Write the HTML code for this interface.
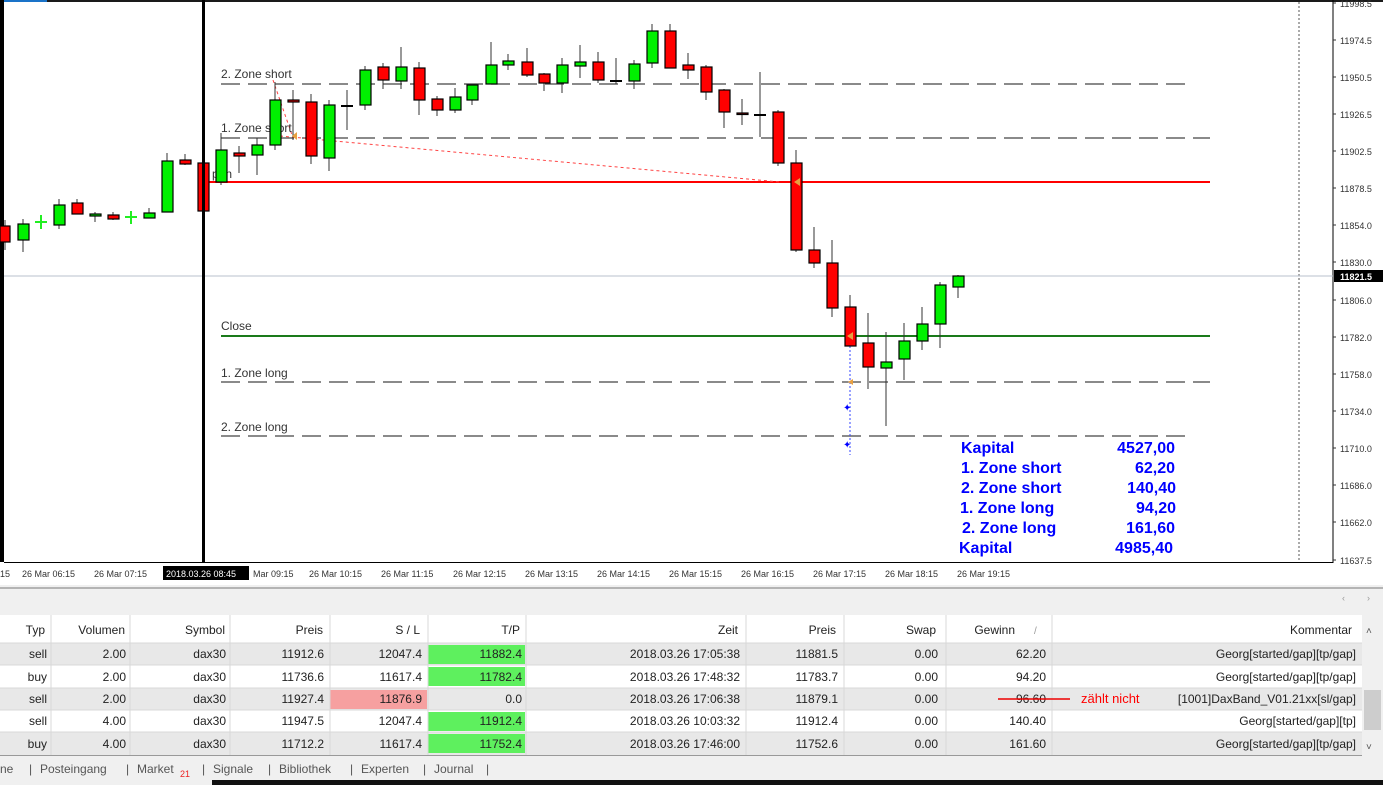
<!DOCTYPE html>
<html><head><meta charset="utf-8">
<style>
html,body{margin:0;padding:0;width:1383px;height:785px;overflow:hidden;background:#fff;font-family:"Liberation Sans",sans-serif;}
svg{display:block;position:absolute;left:0;top:0}
</style></head><body>
<svg width="1383" height="785" viewBox="0 0 1383 785" xmlns="http://www.w3.org/2000/svg" font-family="Liberation Sans, sans-serif">
<rect x="0" y="0" width="1383" height="785" fill="#fff"/>
<!-- top border -->
<rect x="0" y="0" width="1383" height="2" fill="#1a1a1a"/>
<rect x="0" y="0" width="47" height="2" fill="#1a73c8"/>
<!-- left border -->
<rect x="0" y="0" width="4" height="562" fill="#000"/>
<!-- chart frame -->
<line x1="1333" y1="0" x2="1333" y2="563" stroke="#000" stroke-width="1"/>
<line x1="4" y1="562.5" x2="1333" y2="562.5" stroke="#000" stroke-width="1"/>
<!-- dotted vertical -->
<line x1="1299" y1="2" x2="1299" y2="562" stroke="#555" stroke-width="1" stroke-dasharray="2 2"/>
<!-- bid line -->
<line x1="4" y1="276" x2="1333" y2="276" stroke="#b8c0cc" stroke-width="1"/>
<!-- zone lines -->
<g stroke="#444" stroke-width="1.3" stroke-dasharray="19 8">
<line x1="221" y1="84" x2="1185" y2="84"/>
<line x1="221" y1="138" x2="1210" y2="138"/>
<line x1="221" y1="382" x2="1210" y2="382"/>
<line x1="221" y1="436" x2="1185" y2="436"/>
</g>
<line x1="203" y1="182" x2="1210" y2="182" stroke="#f00" stroke-width="2"/>
<line x1="221" y1="336" x2="1210" y2="336" stroke="#1a7a1a" stroke-width="2"/>
<!-- red dotted trade line -->
<g stroke="#f44" stroke-width="1" stroke-dasharray="3 3" fill="none">
<line x1="273" y1="80" x2="292" y2="135"/>
<line x1="280" y1="136" x2="780" y2="182"/>
</g>
<line x1="850" y1="338" x2="850" y2="455" stroke="#3344ff" stroke-width="1" stroke-dasharray="2 2"/>
<text x="843" y="411" fill="#00f" font-size="10">✦</text>
<text x="843" y="448" fill="#00f" font-size="10">✦</text>
<!-- labels -->
<g font-size="12" fill="#333">
<text x="221" y="78">2. Zone short</text>
<text x="221" y="132">1. Zone short</text>
<text x="212" y="178">pen</text>
<text x="221" y="330">Close</text>
<text x="221" y="377">1. Zone long</text>
<text x="221" y="431">2. Zone long</text>
</g>
<!-- candles -->
<g stroke="#000" stroke-width="1">
<!-- wicks -->
<path d="M5 220V250M23 219V252M59 199V229M77 199V214M95 212V222M113 212V220M149 208V218M167 153V212M185 154V165M203 160V211M221 133V185M239 146V173M257 138V175M275 82V150M293 90V140M311 94V164M329 100V171M347 90V130M365 66V110M383 63V89M401 47V89M419 62V115M437 96V116M455 88V113M472 85V105M491 42V84M508 54V70M527 48V77M544 73V91M562 58V93M580 45V78M598 52V83M616 58V84M634 60V89M652 24V68M670 24V68M688 53V79M706 65V100M724 89V128M742 99V125M760 72V137M778 110V166M796 150V252M814 227V268M832 240V317M850 295V346M868 313V389M886 332V426M904 323V380M922 307V350M940 282V348M958 275V298" stroke="#333"/>
</g>
<g stroke="#000" stroke-width="1.2">
<!-- red bodies -->
<g fill="#f00">
<rect x="0" y="226" width="10" height="16"/>
<rect x="72" y="203" width="11" height="11"/>
<rect x="108" y="215" width="11" height="4"/>
<rect x="180" y="160" width="11" height="4"/>
<rect x="198" y="163" width="11" height="48"/>
<rect x="234" y="153" width="11" height="3"/>
<rect x="288" y="100" width="11" height="2"/>
<rect x="306" y="102" width="11" height="54"/>
<rect x="378" y="67" width="11" height="13"/>
<rect x="414" y="68" width="11" height="32"/>
<rect x="432" y="99" width="11" height="11"/>
<rect x="522" y="62" width="11" height="13"/>
<rect x="539" y="74" width="11" height="9"/>
<rect x="593" y="62" width="11" height="18"/>
<rect x="665" y="31" width="11" height="37"/>
<rect x="683" y="65" width="11" height="5"/>
<rect x="701" y="67" width="11" height="25"/>
<rect x="719" y="90" width="11" height="22"/>
<rect x="737" y="113" width="11" height="1.5" fill="#900"/>
<rect x="773" y="112" width="11" height="51"/>
<rect x="791" y="163" width="11" height="87"/>
<rect x="809" y="250" width="11" height="13"/>
<rect x="827" y="263" width="11" height="45"/>
<rect x="845" y="307" width="11" height="39"/>
<rect x="863" y="343" width="11" height="24"/>
</g>
<g fill="#00f000">
<rect x="18" y="224" width="11" height="16"/>
<rect x="54" y="205" width="11" height="20"/>
<rect x="90" y="214" width="11" height="2"/>
<rect x="144" y="213" width="11" height="5"/>
<rect x="162" y="161" width="11" height="51"/>
<rect x="216" y="150" width="11" height="32"/>
<rect x="252" y="145" width="11" height="10"/>
<rect x="270" y="100" width="11" height="45"/>
<rect x="324" y="105" width="11" height="53"/>
<rect x="360" y="70" width="11" height="35"/>
<rect x="396" y="67" width="11" height="14"/>
<rect x="450" y="97" width="11" height="13"/>
<rect x="467" y="85" width="11" height="15"/>
<rect x="486" y="65" width="11" height="19"/>
<rect x="503" y="61" width="11" height="4"/>
<rect x="557" y="65" width="11" height="18"/>
<rect x="575" y="62" width="11" height="4"/>
<rect x="629" y="64" width="11" height="17"/>
<rect x="647" y="31" width="11" height="32"/>
<rect x="881" y="362" width="11" height="6"/>
<rect x="899" y="341" width="11" height="18"/>
<rect x="917" y="324" width="11" height="17"/>
<rect x="935" y="285" width="11" height="39"/>
<rect x="953" y="276" width="11" height="11"/>
</g>
</g>
<g stroke-width="2">
<line x1="35" y1="222" x2="47" y2="222" stroke="#2e2"/><line x1="41" y1="215" x2="41" y2="229" stroke="#2e2"/>
<line x1="125" y1="217" x2="137" y2="217" stroke="#2e2"/><line x1="131" y1="211" x2="131" y2="224" stroke="#2e2"/>
<line x1="341" y1="106" x2="353" y2="106" stroke="#000"/>
<line x1="610" y1="81" x2="622" y2="81" stroke="#000"/>
<line x1="754" y1="115" x2="766" y2="115" stroke="#000"/>
</g>
<!-- vertical black cursor line -->
<rect x="202" y="0" width="3" height="563" fill="#000"/>
<!-- arrows -->
<g fill="#e8a040">
<polygon points="800,178 794,182 800,186"/>
<polygon points="853,332 847,336 853,340"/>
<polygon points="853,379 848,382 853,385"/>
<polygon points="297,132 292,136 297,140"/>
</g>
<!-- info block -->
<g font-size="16" fill="#0000ff" font-weight="bold" style="font-weight:600">
<text x="961" y="453">Kapital</text><text x="1175" y="453" text-anchor="end">4527,00</text>
<text x="961" y="473">1. Zone short</text><text x="1175" y="473" text-anchor="end">62,20</text>
<text x="961" y="493">2. Zone short</text><text x="1176" y="493" text-anchor="end">140,40</text>
<text x="960" y="513">1. Zone long</text><text x="1176" y="513" text-anchor="end">94,20</text>
<text x="962" y="533">2. Zone long</text><text x="1175" y="533" text-anchor="end">161,60</text>
<text x="959" y="553">Kapital</text><text x="1173" y="553" text-anchor="end">4985,40</text>
</g>
<!-- price axis -->
<g font-size="9" fill="#333">
<text x="1340" y="7">11998.5</text>
<text x="1340" y="44">11974.5</text>
<text x="1340" y="81">11950.5</text>
<text x="1340" y="118">11926.5</text>
<text x="1340" y="155">11902.5</text>
<text x="1340" y="192">11878.5</text>
<text x="1340" y="229">11854.0</text>
<text x="1340" y="266">11830.0</text>
<text x="1340" y="304">11806.0</text>
<text x="1340" y="341">11782.0</text>
<text x="1340" y="378">11758.0</text>
<text x="1340" y="415">11734.0</text>
<text x="1340" y="452">11710.0</text>
<text x="1340" y="489">11686.0</text>
<text x="1340" y="526">11662.0</text>
<text x="1340" y="564">11637.5</text>
</g>
<g stroke="#333"><path d="M1333 3h3M1333 40h3M1333 77h3M1333 114h3M1333 151h3M1333 188h3M1333 225h3M1333 262h3M1333 300h3M1333 337h3M1333 374h3M1333 411h3M1333 448h3M1333 485h3M1333 522h3M1333 560h3"/></g>
<rect x="1334" y="270" width="49" height="12" fill="#000"/>
<text x="1340" y="280" font-size="9" fill="#fff" font-weight="bold">11821.5</text>
<!-- time axis -->
<g font-size="9" fill="#333">
<text x="0" y="577">15</text>
<text x="22" y="577">26 Mar 06:15</text>
<text x="94" y="577">26 Mar 07:15</text>
<text x="253" y="577">Mar 09:15</text>
<text x="309" y="577">26 Mar 10:15</text>
<text x="381" y="577">26 Mar 11:15</text>
<text x="453" y="577">26 Mar 12:15</text>
<text x="525" y="577">26 Mar 13:15</text>
<text x="597" y="577">26 Mar 14:15</text>
<text x="669" y="577">26 Mar 15:15</text>
<text x="741" y="577">26 Mar 16:15</text>
<text x="813" y="577">26 Mar 17:15</text>
<text x="885" y="577">26 Mar 18:15</text>
<text x="957" y="577">26 Mar 19:15</text>
</g>
<rect x="163" y="566" width="86" height="14" fill="#000"/>
<text x="166" y="577" font-size="9" fill="#fff">2018.03.26 08:45</text>
<!-- bottom panel -->
<rect x="0" y="585" width="1383" height="200" fill="#f0f0f0"/>
<line x1="0" y1="588" x2="1383" y2="588" stroke="#777" stroke-width="1"/>
<text x="1342" y="601" font-size="9" fill="#999">‹</text><text x="1367" y="601" font-size="9" fill="#999">›</text>
<rect x="0" y="615" width="1362" height="28" fill="#fff"/>
<rect x="0" y="643" width="1362" height="22" fill="#e8e8e8"/>
<rect x="0" y="665" width="1362" height="23" fill="#fff"/>
<rect x="0" y="688" width="1362" height="22" fill="#e8e8e8"/>
<rect x="0" y="710" width="1362" height="22" fill="#fff"/>
<rect x="0" y="732" width="1362" height="23" fill="#e8e8e8"/>
<rect x="1362" y="615" width="21" height="140" fill="#f0f0f0"/>
<rect x="1364" y="690" width="17" height="40" fill="#cdcdcd"/>
<text x="1366" y="634" font-size="10" fill="#555">˄</text>
<text x="1366" y="750" font-size="10" fill="#555">˅</text>
<!-- colored cells -->
<rect x="428" y="645" width="97" height="19" fill="#5ef05e"/>
<rect x="428" y="667" width="97" height="19" fill="#5ef05e"/>
<rect x="330" y="690" width="97" height="19" fill="#f6a0a0"/>
<rect x="428" y="712" width="97" height="19" fill="#5ef05e"/>
<rect x="428" y="734" width="97" height="19" fill="#5ef05e"/>
<g stroke="#d8d8d8" stroke-width="1">
<path d="M51 615V755M130 615V755M230 615V755M330 615V755M428 615V755M526 615V755M746 615V755M844 615V755M946 615V755M1052 615V755"/>
<path d="M0 643H1362M0 665H1362M0 688H1362M0 710H1362M0 732H1362"/>
</g>
<line x1="0" y1="755.5" x2="1362" y2="755.5" stroke="#999"/>
<g font-size="12" fill="#222" text-anchor="end">
<text x="45" y="634">Typ</text><text x="125" y="634">Volumen</text><text x="225" y="634">Symbol</text><text x="323" y="634">Preis</text><text x="420" y="634">S / L</text><text x="520" y="634">T/P</text><text x="738" y="634">Zeit</text><text x="836" y="634">Preis</text><text x="936" y="634">Swap</text><text x="1015" y="634">Gewinn</text><text x="1352" y="634">Kommentar</text>
<text x="47" y="658">sell</text><text x="126" y="658">2.00</text><text x="226" y="658">dax30</text><text x="324" y="658">11912.6</text><text x="422" y="658">12047.4</text><text x="522" y="658">11882.4</text><text x="740" y="658">2018.03.26 17:05:38</text><text x="838" y="658">11881.5</text><text x="938" y="658">0.00</text><text x="1046" y="658">62.20</text><text x="1356" y="658">Georg[started/gap][tp/gap]</text>
<text x="47" y="681">buy</text><text x="126" y="681">2.00</text><text x="226" y="681">dax30</text><text x="324" y="681">11736.6</text><text x="422" y="681">11617.4</text><text x="522" y="681">11782.4</text><text x="740" y="681">2018.03.26 17:48:32</text><text x="838" y="681">11783.7</text><text x="938" y="681">0.00</text><text x="1046" y="681">94.20</text><text x="1356" y="681">Georg[started/gap][tp/gap]</text>
<text x="47" y="703">sell</text><text x="126" y="703">2.00</text><text x="226" y="703">dax30</text><text x="324" y="703">11927.4</text><text x="422" y="703">11876.9</text><text x="522" y="703">0.0</text><text x="740" y="703">2018.03.26 17:06:38</text><text x="838" y="703">11879.1</text><text x="938" y="703">0.00</text><text x="1046" y="703">96.60</text><text x="1356" y="703">[1001]DaxBand_V01.21xx[sl/gap]</text>
<text x="47" y="725">sell</text><text x="126" y="725">4.00</text><text x="226" y="725">dax30</text><text x="324" y="725">11947.5</text><text x="422" y="725">12047.4</text><text x="522" y="725">11912.4</text><text x="740" y="725">2018.03.26 10:03:32</text><text x="838" y="725">11912.4</text><text x="938" y="725">0.00</text><text x="1046" y="725">140.40</text><text x="1356" y="725">Georg[started/gap][tp]</text>
<text x="47" y="748">buy</text><text x="126" y="748">4.00</text><text x="226" y="748">dax30</text><text x="324" y="748">11712.2</text><text x="422" y="748">11617.4</text><text x="522" y="748">11752.4</text><text x="740" y="748">2018.03.26 17:46:00</text><text x="838" y="748">11752.6</text><text x="938" y="748">0.00</text><text x="1046" y="748">161.60</text><text x="1356" y="748">Georg[started/gap][tp/gap]</text>
</g>
<text x="1034" y="634" font-size="10" fill="#999">/</text>
<line x1="998" y1="699" x2="1070" y2="699" stroke="#e00" stroke-width="1.5"/>
<text x="1081" y="703" font-size="13" fill="#f00">zählt nicht</text>
<!-- tabs -->
<g font-size="12" fill="#555">
<text x="0" y="773">ne</text><text x="29" y="773">|</text>
<text x="40" y="773">Posteingang</text><text x="126" y="773">|</text>
<text x="137" y="773">Market</text><text x="180" y="777" font-size="9" fill="#e22">21</text><text x="202" y="773">|</text>
<text x="213" y="773">Signale</text><text x="268" y="773">|</text>
<text x="279" y="773">Bibliothek</text><text x="350" y="773">|</text>
<text x="361" y="773">Experten</text><text x="423" y="773">|</text>
<text x="434" y="773">Journal</text><text x="486" y="773">|</text>
</g>
<rect x="0" y="780" width="1383" height="5" fill="#111"/>
<rect x="0" y="780" width="212" height="5" fill="#f0f0f0"/>
</svg>
</body></html>
